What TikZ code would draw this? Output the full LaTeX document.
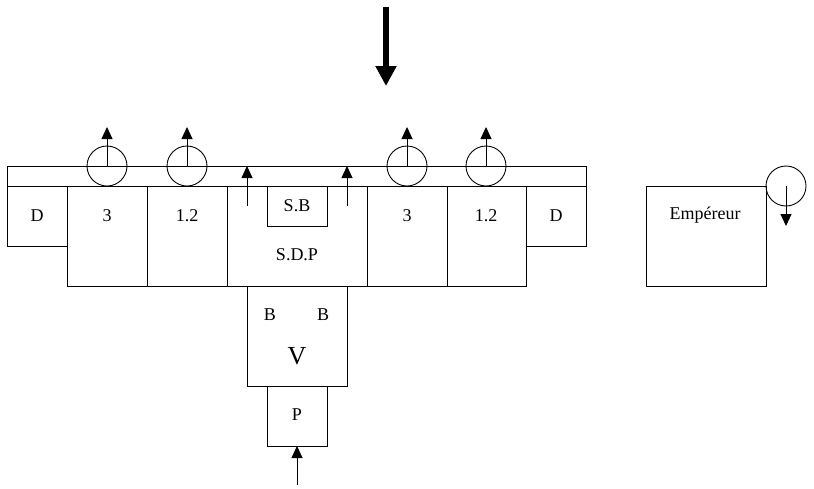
\documentclass[tikz,border=0pt]{standalone}
\usepackage{fontspec}
\setmainfont{Liberation Serif}
\usetikzlibrary{arrows.meta}

\begin{document}
\begin{tikzpicture}[x=1pt,y=-1pt,line width=0.9pt,
    txt/.style={font=\fontsize{18}{21}\selectfont, inner sep=0pt},
    valve/.style={draw, circle, minimum size=40pt, inner sep=0pt},
    fleche/.style={-{Triangle[length=12pt,width=11pt]}}]
    \useasboundingbox (0,0) rectangle (814,488);
    % big arrow on top
    \coordinate (in0) at (386,7);
    \coordinate (in1) at (386,86);
    \draw[line width=6.5pt, -{Triangle[length=20pt,width=20pt]}] (in0) -- (in1);
    % top strip and cells
    \draw (7,166) rectangle (586,186);
    \draw (7,186) rectangle (67,246);
    \draw (67,186) rectangle (147,286);
    \draw (147,186) rectangle (227,286);
    \draw (227,286) -- (367,286);
    \draw (267,186) rectangle (327,226);
    \draw (367,186) rectangle (447,286);
    \draw (447,186) rectangle (526,286);
    \draw (526,186) rectangle (586,246);
    \draw (247,286) rectangle (347,386);
    \draw (267,386) rectangle (327,446);
    \draw (646,186) rectangle (766,286);
    \node[txt] (d1) at (37,216) {D};
    \node[txt] (g3) at (107,216) {3};
    \node[txt] (g12) at (187,216) {1.2};
    \node[txt] (sb) at (297,206) {S.B};
    \node[txt] (sdp) at (297,255) {S.D.P};
    \node[txt] (d3) at (407,216) {3};
    \node[txt] (d12) at (486,216) {1.2};
    \node[txt] (d2) at (556,216) {D};
    \node[txt] (b1) at (270,315) {B};
    \node[txt] (b2) at (323,315) {B};
    \node[txt, font=\fontsize{26}{30}\selectfont] (v) at (297,356) {V};
    \node[txt] (p) at (297,415) {P};
    \node[txt] (emp) at (705,215) {Empéreur};
    % valves
    \node[valve] (va) at (107,166) {};
    \node[valve] (vb) at (187,166) {};
    \node[valve] (vc) at (407,166) {};
    \node[valve] (vd) at (486,166) {};
    \node[valve] (ve) at (786,186) {};
    \coordinate (ta) at (107,127);
    \coordinate (tb) at (187,127);
    \coordinate (tc) at (407,127);
    \coordinate (td) at (486,127);
    \coordinate (te) at (786,226);
    \draw[fleche] (va.center) -- (ta);
    \draw[fleche] (vb.center) -- (tb);
    \draw[fleche] (vc.center) -- (tc);
    \draw[fleche] (vd.center) -- (td);
    \draw[fleche] (ve.center) -- (te);
    % small arrows
    \coordinate (s1) at (247,206);
    \coordinate (s1t) at (247,166);
    \coordinate (s2) at (347,206);
    \coordinate (s2t) at (347,166);
    \coordinate (pb) at (297,485);
    \coordinate (pt) at (297,446);
    \draw[fleche] (s1) -- (s1t);
    \draw[fleche] (s2) -- (s2t);
    \draw[fleche] (pb) -- (pt);
  \end{tikzpicture}
\end{document}
